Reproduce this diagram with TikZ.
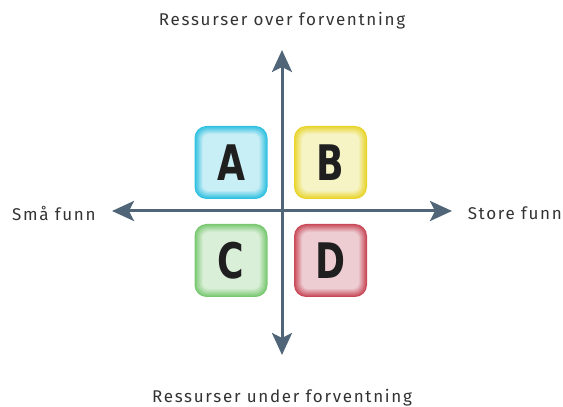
\documentclass[tikz,border=0pt]{standalone}
\usepackage{fontspec}
\setmainfont{Fira Sans}
\newfontfamily\letterfont{DejaVu Sans Condensed}
\usetikzlibrary{arrows.meta,calc}
\definecolor{axiscol}{HTML}{506678}
\definecolor{txtcol}{HTML}{333333}
\definecolor{Aedge}{HTML}{2EC0E0}\definecolor{Afill}{HTML}{C8EEF6}
\definecolor{Bedge}{HTML}{E8D42A}\definecolor{Bfill}{HTML}{F6F4C4}
\definecolor{Cedge}{HTML}{78C870}\definecolor{Cfill}{HTML}{DAEFD8}
\definecolor{Dedge}{HTML}{C84858}\definecolor{Dfill}{HTML}{EDCDD2}
\tikzset{
  axis/.style={draw=axiscol, line width=3pt, {Stealth[length=22pt,width=20pt,inset=5pt]}-{Stealth[length=22pt,width=20pt,inset=5pt]}},
  lbl/.style={text=txtcol, font=\fontsize{17}{20}\selectfont\addfontfeature{LetterSpace=10}, inner sep=0pt},
  letter/.style={text=black!88, font=\letterfont\bfseries\fontsize{49}{49}\selectfont, inner sep=0pt},
}
\newcommand{\glowbox}[4]{% name, center, edge, fill
  \foreach \i in {0,...,8}{
    \pgfmathsetmacro{\mix}{\i*12.5}
    \fill[#4!\mix!#3, rounded corners={12pt-\i*0.7pt}] ($(#2)+(-36.5pt+\i*1pt,-36.5pt+\i*1pt)$) rectangle ($(#2)+(36.5pt-\i*1pt,36.5pt-\i*1pt)$);
  }
  \node[minimum size=73pt, inner sep=0pt] (#1) at (#2) {};
}
\begin{document}
\begin{tikzpicture}[x=1pt,y=1pt]
\useasboundingbox (0,0) rectangle (563,407);
% boxes
\glowbox{A}{231,244.5}{Aedge}{Afill}
\glowbox{B}{330.5,244.5}{Bedge}{Bfill}
\glowbox{C}{231,146.5}{Cedge}{Cfill}
\glowbox{D}{330.5,146.5}{Dedge}{Dfill}
\node[letter] at (A) {\scalebox{0.82}[1]{A}};
\node[letter] at (B) {\scalebox{0.82}[1]{B}};
\node[letter] at (C) {\scalebox{0.82}[1]{C}};
\node[letter] at (D) {\scalebox{0.82}[1]{D}};
% axes
\coordinate (top) at (282,357);
\coordinate (bot) at (282,52);
\coordinate (lft) at (112,196);
\coordinate (rgt) at (452,196);
\draw[axis] (bot) -- (top);
\draw[axis] (lft) -- (rgt);
% labels
\node[lbl] (t) at (282,386) {Ressurser over forventning};
\node[lbl] (b) at (282,9) {Ressurser under forventning};
\node[lbl, anchor=west] (l) at (12,194) {Små funn};
\node[lbl, anchor=east] (r) at (562,194) {Store funn};
\end{tikzpicture}
\end{document}
